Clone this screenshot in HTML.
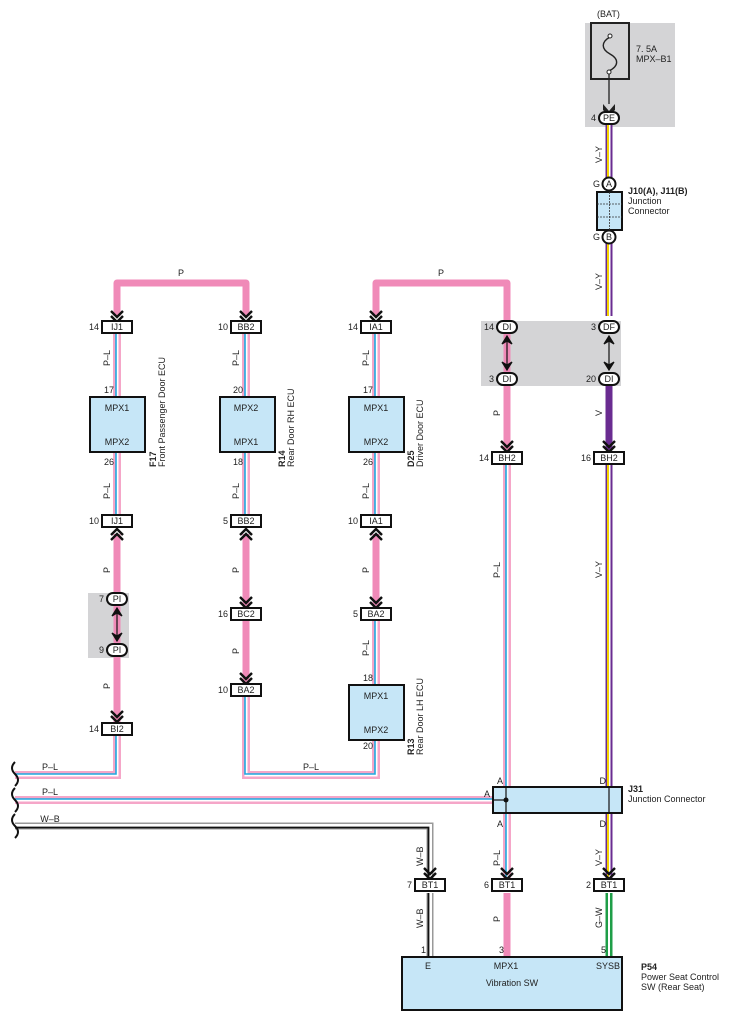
<!DOCTYPE html>
<html><head><meta charset="utf-8"><style>
html,body{margin:0;padding:0;background:#fff;}
svg{display:block;font-family:"Liberation Sans",sans-serif;}
text{font-size:9px;fill:#222;}
.b{font-weight:bold;}
</style></head><body>
<svg width="730" height="1020" viewBox="0 0 730 1020" xmlns="http://www.w3.org/2000/svg">
<defs>
<g id="chd"><path d="M-6,-11 L0,-5 L6,-11 M-6,-6 L0,0 L6,-6" fill="none" stroke="#111" stroke-width="2.4"/></g>
<g id="chu"><path d="M-6,11 L0,5 L6,11 M-6,6 L0,0 L6,6" fill="none" stroke="#111" stroke-width="2.4"/></g>
</defs>

<rect x="585" y="23" width="90" height="104" fill="#d4d4d6"/>
<rect x="481" y="321" width="140" height="65" fill="#d4d4d6"/>
<rect x="88" y="593" width="41" height="65" fill="#d4d4d6"/>

<g fill="none" stroke="#f08ab8" stroke-width="7" stroke-linejoin="round">
<path d="M117,316 L117,283 L246,283 L246,316"/>
<path d="M376,316 L376,283 L507,283 L507,450"/>
<path d="M117,534 L117,722"/>
<path d="M246,534 L246,684"/>
<path d="M376,534 L376,608"/>
<path d="M507,893 L507,957"/>
</g>
<g fill="none" stroke-linejoin="miter">
<g stroke="#f5a6c8" stroke-width="8">
<path d="M117,334 L117,515"/><path d="M246,334 L246,515"/><path d="M376,334 L376,515"/>
<path d="M376,621 L376,685"/><path d="M376,740 L376,775 L246,775 L246,697"/>
<path d="M117,736 L117,775 L15,775"/>
<path d="M15,800 L493,800"/>
<path d="M507,465 L507,878"/>
</g>
<g stroke="#fff" stroke-width="3">
<path d="M117,334 L117,515"/><path d="M246,334 L246,515"/><path d="M376,334 L376,515"/>
<path d="M376,621 L376,685"/><path d="M376,740 L376,775 L246,775 L246,697"/>
<path d="M117,736 L117,775 L15,775"/>
<path d="M15,800 L493,800"/>
<path d="M507,465 L507,878"/>
</g>
<g stroke="#1fa8e0" stroke-width="1.6">
<path d="M116,334 L116,515"/><path d="M245,334 L245,515"/><path d="M375,334 L375,515"/>
<path d="M375,621 L375,685"/><path d="M375,740 L375,774 L245,774 L245,697"/>
<path d="M116,736 L116,774 L15,774"/>
<path d="M15,799 L493,799"/>
<path d="M506,465 L506,878"/>
</g>
</g>
<g fill="none">
<path d="M609,125 L609,180 M609,243 L609,316 M609,465 L609,878" stroke="#6a2c91" stroke-width="7"/>
<path d="M609,125 L609,180 M609,243 L609,316 M609,465 L609,878" stroke="#fff" stroke-width="3"/>
<path d="M608,125 L608,180 M608,243 L608,316 M608,465 L608,878" stroke="#f5d300" stroke-width="2"/>
<path d="M609,386 L609,450" stroke="#6a2c91" stroke-width="7"/>
<path d="M609,893 L609,957" stroke="#1f9e48" stroke-width="7"/>
<path d="M609,893 L609,957" stroke="#fff" stroke-width="2"/>
<path d="M15,826 L430,826 L430,878 M430,893 L430,957" stroke="#999" stroke-width="7"/>
<path d="M15,826 L430,826 L430,878 M430,893 L430,957" stroke="#fff" stroke-width="4"/>
<path d="M15,827.5 L428.5,827.5 L428.5,878 M428.5,893 L428.5,957" stroke="#111" stroke-width="1.8"/>
</g>

<g fill="none" stroke="#111" stroke-width="2">
<path d="M15,762 q-6,6 0,12 q6,6 0,12"/>
<path d="M15,788 q-6,6 0,12 q6,6 0,12"/>
<path d="M15,814 q-6,6 0,12 q6,6 0,12"/>
</g>

<use href="#chd" x="117" y="322"/><use href="#chd" x="246" y="322"/><use href="#chd" x="376" y="322"/>
<use href="#chu" x="117" y="529"/><use href="#chu" x="246" y="529"/><use href="#chu" x="376" y="529"/>
<use href="#chd" x="246" y="608"/><use href="#chd" x="376" y="608"/>
<use href="#chd" x="246" y="684"/><use href="#chd" x="117" y="722"/>
<use href="#chd" x="507" y="452"/><use href="#chd" x="609" y="452"/>
<use href="#chd" x="430" y="879"/><use href="#chd" x="507" y="879"/><use href="#chd" x="609" y="879"/>

<!-- fuse -->
<rect x="591" y="23" width="38" height="56" fill="none" stroke="#222" stroke-width="2"/>
<path d="M610,37 c-9,5 -9,12 0,17 c9,5 9,12 -1,17" fill="none" stroke="#222" stroke-width="1.4"/>
<circle cx="610" cy="36" r="2" fill="#fff" stroke="#222"/>
<circle cx="609" cy="72" r="2" fill="#fff" stroke="#222"/>
<line x1="609" y1="74" x2="609" y2="104" stroke="#222" stroke-width="1.3"/>
<path d="M603,104 L609,111 L615,104 L615,110 L609,116 L603,110Z" fill="#222"/>
<text x="597" y="17">(BAT)</text>
<text x="636" y="52">7. 5A</text>
<text x="636" y="62">MPX–B1</text>

<g fill="#fff" stroke="#111" stroke-width="2">
<rect x="599" y="112" width="20" height="12" rx="6"/>
<rect x="497" y="321" width="20" height="12" rx="6"/>
<rect x="497" y="373" width="20" height="12" rx="6"/>
<rect x="599" y="321" width="20" height="12" rx="6"/>
<rect x="599" y="373" width="20" height="12" rx="6"/>
<rect x="107" y="593" width="20" height="12" rx="6"/>
<rect x="107" y="644" width="20" height="12" rx="6"/>
<circle cx="609" cy="184" r="6.5"/>
<circle cx="609" cy="237" r="6.5"/>
</g>
<g text-anchor="middle">
<text x="609" y="121">PE</text><text x="507" y="330">DI</text><text x="507" y="382">DI</text>
<text x="609" y="330">DF</text><text x="609" y="382">DI</text>
<text x="117" y="602">PI</text><text x="117" y="653">PI</text>
<text x="609" y="187">A</text><text x="609" y="240">B</text>
</g>
<g text-anchor="end">
<text x="596" y="121">4</text><text x="494" y="330">14</text><text x="494" y="382">3</text>
<text x="596" y="330">3</text><text x="596" y="382">20</text>
<text x="104" y="602">7</text><text x="104" y="653">9</text>
<text x="600" y="187">G</text><text x="600" y="240">G</text>
</g>
<g stroke="#111" stroke-width="1.2" fill="#111">
<line x1="507" y1="336" x2="507" y2="370"/><line x1="609" y1="336" x2="609" y2="370"/><line x1="117" y1="608" x2="117" y2="641"/>
<path d="M502,344 L507,336 L512,344 L507,341Z M502,362 L507,370 L512,362 L507,365Z"/>
<path d="M604,344 L609,336 L614,344 L609,341Z M604,362 L609,370 L614,362 L609,365Z"/>
<path d="M112,616 L117,608 L122,616 L117,613Z M112,633 L117,641 L122,633 L117,636Z"/>
</g>

<rect x="597" y="192" width="25" height="38" fill="#c6e6f7" stroke="#111" stroke-width="2"/>
<g stroke="#333" stroke-width="0.8" stroke-dasharray="2,1"><line x1="609.5" y1="192" x2="609.5" y2="230"/><line x1="597" y1="204" x2="622" y2="204"/><line x1="597" y1="217" x2="622" y2="217"/></g>
<text x="628" y="194" class="b">J10(A), J11(B)</text>
<text x="628" y="204">Junction</text><text x="628" y="214">Connector</text>

<g fill="#fff" stroke="#111" stroke-width="2">
<rect x="102" y="321" width="30" height="12"/><rect x="231" y="321" width="30" height="12"/><rect x="361" y="321" width="30" height="12"/>
<rect x="102" y="515" width="30" height="12"/><rect x="231" y="515" width="30" height="12"/><rect x="361" y="515" width="30" height="12"/>
<rect x="231" y="608" width="30" height="12"/><rect x="361" y="608" width="30" height="12"/>
<rect x="231" y="684" width="30" height="12"/><rect x="102" y="723" width="30" height="12"/>
<rect x="492" y="452" width="30" height="12"/><rect x="594" y="452" width="30" height="12"/>
<rect x="415" y="879" width="30" height="12"/><rect x="492" y="879" width="30" height="12"/><rect x="594" y="879" width="30" height="12"/>
</g>
<g text-anchor="middle">
<text x="117" y="330">IJ1</text><text x="246" y="330">BB2</text><text x="376" y="330">IA1</text>
<text x="117" y="524">IJ1</text><text x="246" y="524">BB2</text><text x="376" y="524">IA1</text>
<text x="246" y="617">BC2</text><text x="376" y="617">BA2</text>
<text x="246" y="693">BA2</text><text x="117" y="732">BI2</text>
<text x="507" y="461">BH2</text><text x="609" y="461">BH2</text>
<text x="430" y="888">BT1</text><text x="507" y="888">BT1</text><text x="609" y="888">BT1</text>
</g>
<g text-anchor="end">
<text x="99" y="330">14</text><text x="228" y="330">10</text><text x="358" y="330">14</text>
<text x="99" y="524">10</text><text x="228" y="524">5</text><text x="358" y="524">10</text>
<text x="228" y="617">16</text><text x="358" y="617">5</text>
<text x="228" y="693">10</text><text x="99" y="732">14</text>
<text x="489" y="461">14</text><text x="591" y="461">16</text>
<text x="412" y="888">7</text><text x="489" y="888">6</text><text x="591" y="888">2</text>
</g>

<g fill="#c6e6f7" stroke="#111" stroke-width="2">
<rect x="90" y="397" width="55" height="55"/><rect x="220" y="397" width="55" height="55"/><rect x="349" y="397" width="55" height="55"/>
<rect x="349" y="685" width="55" height="55"/>
<rect x="493" y="787" width="129" height="26"/>
<rect x="402" y="957" width="220" height="53"/>
</g>
<g stroke="#111" stroke-width="1.2"><line x1="506" y1="787" x2="506" y2="813"/><line x1="493" y1="800" x2="506" y2="800"/><line x1="609" y1="787" x2="609" y2="813"/></g>
<circle cx="506" cy="800" r="2.5" fill="#111"/>
<g text-anchor="middle">
<text x="117" y="411">MPX1</text><text x="117" y="445">MPX2</text>
<text x="246" y="411">MPX2</text><text x="246" y="445">MPX1</text>
<text x="376" y="411">MPX1</text><text x="376" y="445">MPX2</text>
<text x="376" y="699">MPX1</text><text x="376" y="733">MPX2</text>
<text x="428" y="969">E</text><text x="506" y="969">MPX1</text><text x="608" y="969">SYSB</text>
<text x="512" y="986">Vibration SW</text>
</g>
<g text-anchor="end">
<text x="114" y="393">17</text><text x="114" y="465">26</text>
<text x="243" y="393">20</text><text x="243" y="465">18</text>
<text x="373" y="393">17</text><text x="373" y="465">26</text>
<text x="373" y="681">18</text><text x="373" y="749">20</text>
<text x="426" y="953">1</text><text x="504" y="953">3</text><text x="606" y="953">5</text>
<text x="503" y="784">A</text><text x="503" y="827">A</text><text x="490" y="797">A</text>
<text x="606" y="784">D</text><text x="606" y="827">D</text>
</g>
<text x="628" y="792" class="b">J31</text><text x="628" y="802">Junction Connector</text>
<text x="641" y="970" class="b">P54</text><text x="641" y="980">Power Seat Control</text><text x="641" y="990">SW (Rear Seat)</text>

<text transform="translate(156,467) rotate(-90)" class="b">F17</text>
<text transform="translate(165,467) rotate(-90)">Front Passenger Door ECU</text>
<text transform="translate(285,467) rotate(-90)" class="b">R14</text>
<text transform="translate(294,467) rotate(-90)">Rear Door RH ECU</text>
<text transform="translate(414,467) rotate(-90)" class="b">D25</text>
<text transform="translate(423,467) rotate(-90)">Driver Door ECU</text>
<text transform="translate(414,755) rotate(-90)" class="b">R13</text>
<text transform="translate(423,755) rotate(-90)">Rear Door LH ECU</text>

<g text-anchor="middle">
<text x="181" y="276">P</text><text x="441" y="276">P</text>
<text x="50" y="770">P–L</text><text x="50" y="795">P–L</text><text x="50" y="822">W–B</text>
<text x="311" y="770">P–L</text>
</g>
<g>
<text transform="translate(110,366) rotate(-90)">P–L</text>
<text transform="translate(239,366) rotate(-90)">P–L</text>
<text transform="translate(369,366) rotate(-90)">P–L</text>
<text transform="translate(110,499) rotate(-90)">P–L</text>
<text transform="translate(239,499) rotate(-90)">P–L</text>
<text transform="translate(369,499) rotate(-90)">P–L</text>
<text transform="translate(110,573) rotate(-90)">P</text>
<text transform="translate(239,573) rotate(-90)">P</text>
<text transform="translate(369,573) rotate(-90)">P</text>
<text transform="translate(239,654) rotate(-90)">P</text>
<text transform="translate(369,656) rotate(-90)">P–L</text>
<text transform="translate(110,689) rotate(-90)">P</text>
<text transform="translate(500,416) rotate(-90)">P</text>
<text transform="translate(602,416) rotate(-90)">V</text>
<text transform="translate(602,163) rotate(-90)">V–Y</text>
<text transform="translate(602,290) rotate(-90)">V–Y</text>
<text transform="translate(500,578) rotate(-90)">P–L</text>
<text transform="translate(602,578) rotate(-90)">V–Y</text>
<text transform="translate(423,866) rotate(-90)">W–B</text>
<text transform="translate(500,866) rotate(-90)">P–L</text>
<text transform="translate(602,866) rotate(-90)">V–Y</text>
<text transform="translate(423,928) rotate(-90)">W–B</text>
<text transform="translate(500,922) rotate(-90)">P</text>
<text transform="translate(602,928) rotate(-90)">G–W</text>
</g>
</svg>
</body></html>
